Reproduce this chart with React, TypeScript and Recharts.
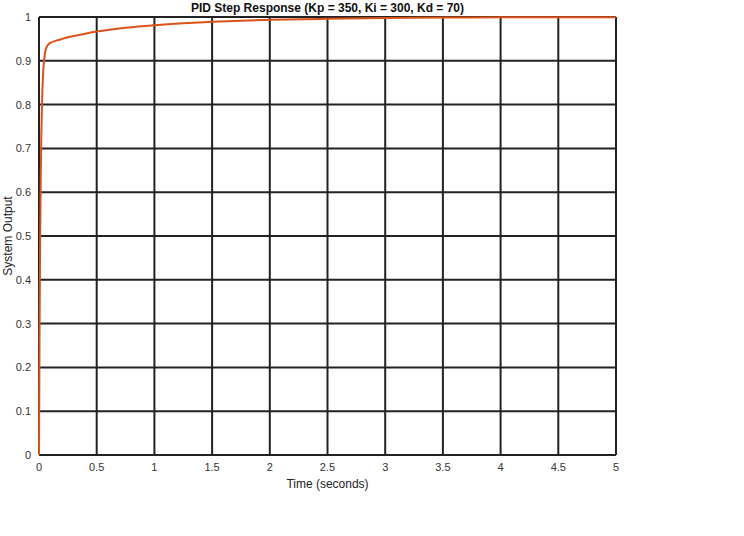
import { LineChart, Line, XAxis, YAxis, CartesianGrid, ReferenceLine } from "recharts";

// step response
const timeSec = [0, 0.005, 0.01, 0.015, 0.02, 0.025, 0.03, 0.04, 0.05, 0.06, 0.07, 0.08, 0.1, 0.15, 0.2, 0.3, 0.4, 0.5, 0.75, 1, 1.25, 1.5, 2, 2.5, 3, 3.5, 4, 4.5, 5];
const output = [0, 0.29, 0.493, 0.63, 0.726, 0.79, 0.836, 0.889, 0.914, 0.927, 0.933, 0.937, 0.941, 0.946, 0.95, 0.9565, 0.962, 0.9667, 0.9754, 0.9814, 0.9858, 0.989, 0.9936, 0.996, 0.998, 0.9987, 0.9992, 0.9995, 0.9997];
const xTicks = [0, 0.5, 1, 1.5, 2, 2.5, 3, 3.5, 4, 4.5, 5];
const yTicks = [0, 0.1, 0.2, 0.3, 0.4, 0.5, 0.6, 0.7, 0.8, 0.9, 1];

const data = timeSec.map((t, i) => ({ t, y: output[i] }));

const font = "'Liberation Sans', Arial, sans-serif";
const tickStyle = { fill: "#333", fontSize: 11, fontFamily: font };

export default function App() {
  return (
    <div style={{ position: "absolute", left: 0, top: 0, width: 744, height: 536, background: "#fff" }}>
      <LineChart width={744} height={536} data={data} margin={{ top: 17, right: 128, left: 0, bottom: 48 }}>
        <CartesianGrid stroke="#222" strokeWidth={2} horizontalValues={yTicks} verticalValues={xTicks} />
        <XAxis
          dataKey="t"
          type="number"
          domain={[0, 5]}
          ticks={xTicks}
          tickLine={false}
          axisLine={false}
          tick={tickStyle}
          tickMargin={2}
          height={33}
          label={{ value: "Time (seconds)", position: "insideBottom", offset: 0, fill: "#222", fontSize: 12, fontFamily: font }}
        />
        <YAxis
          type="number"
          domain={[0, 1]}
          ticks={yTicks}
          tickLine={false}
          axisLine={false}
          tick={tickStyle}
          tickMargin={2}
          width={39}
          label={{ value: "System Output", angle: -90, position: "insideLeft", offset: 8, fill: "#222", fontSize: 12, fontFamily: font, style: { textAnchor: "middle" } }}
        />
        <ReferenceLine x={0} stroke="#222" strokeWidth={2} />
        <ReferenceLine x={5} stroke="#222" strokeWidth={2} />
        <ReferenceLine y={0} stroke="#222" strokeWidth={2} />
        <ReferenceLine y={1} stroke="#222" strokeWidth={2} />
        <Line type="monotone" dataKey="y" stroke="#D95319" strokeWidth={2} dot={false} isAnimationActive={false} />
        <text x={327.5} y={12} textAnchor="middle" fontSize={12} fontWeight="bold" fontFamily={font} fill="#111">
          PID Step Response (Kp = 350, Ki = 300, Kd = 70)
        </text>
      </LineChart>
    </div>
  );
}
